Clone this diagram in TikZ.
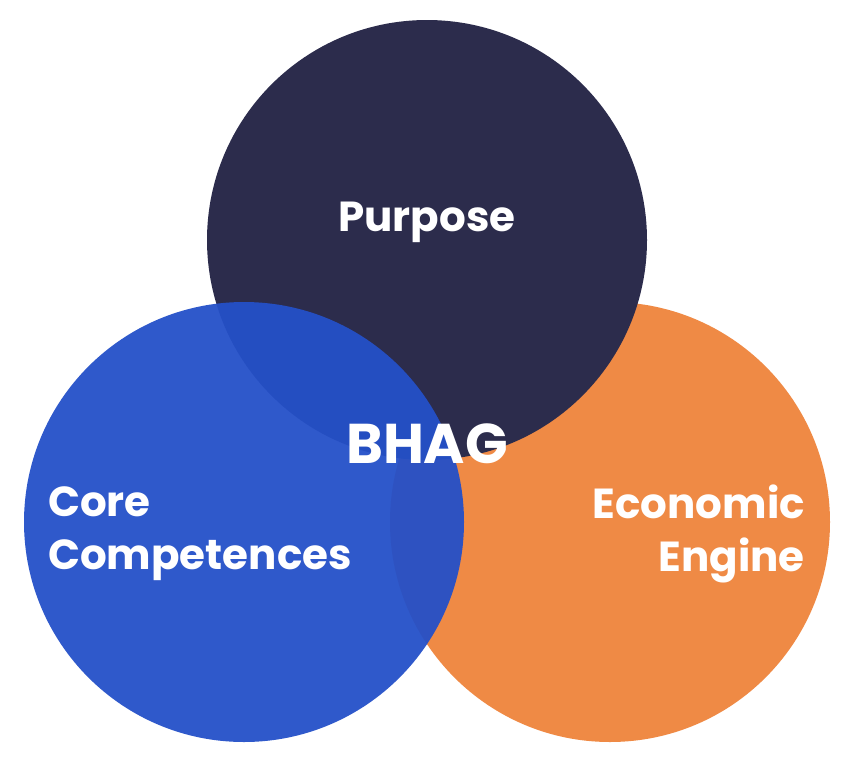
\documentclass[tikz,border=0pt]{standalone}
\usepackage{fontspec}
\setmainfont{Poppins}
\definecolor{navy}{HTML}{2C2C4C}
\definecolor{bblue}{HTML}{2450C8}
\definecolor{orng}{HTML}{EF8A45}
\begin{document}
\begin{tikzpicture}[x=1pt,y=-1pt,
  lbl/.style={text=white,font=\bfseries\fontsize{42}{53}\selectfont}]
\useasboundingbox (0,0) rectangle (848,774);
\fill[orng] (610,522) circle (220);
\fill[navy] (427,240) circle (220);
\fill[bblue,opacity=0.95] (244,522) circle (220);
\node[lbl] (p) at (427,222) {Purpose};
\node[lbl,font=\bfseries\fontsize{56}{60}\selectfont] (b) at (427,444) {BHAG};
\node[lbl,align=left,anchor=west,inner sep=0pt] (c) at (48,534) {Core\\Competences};
\node[lbl,align=right,anchor=east,inner sep=0pt] (e) at (805,534) {Economic\\Engine};
\end{tikzpicture}
\end{document}
